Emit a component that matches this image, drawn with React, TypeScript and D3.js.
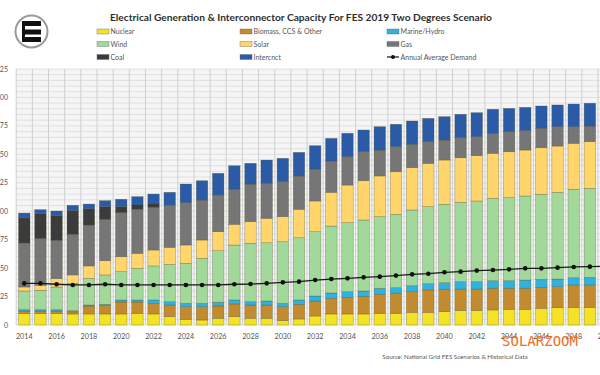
import React from "react";
import * as d3 from "d3";

const years = d3.range(2014, 2051);
const nuclear = [10, 10, 10, 9.7, 9.7, 9.7, 9.7, 10.3, 9.7, 7.3, 5, 4.4, 5.9, 7.3, 5.9, 5.9, 3.8, 5.3, 7.9, 9.7, 9.7, 9.7, 10.3, 10.3, 11.1, 11.1, 11.7, 12.6, 12.6, 13.2, 13.8, 13.8, 14.7, 15.2, 15.5, 15.5, 15.5];
const biomass = [2.3, 2.3, 2.3, 1.9, 6.9, 7.5, 10.5, 9.9, 9.3, 10.3, 11.1, 11.7, 10.8, 11.2, 11.7, 11.7, 12.3, 12.9, 13.2, 13.7, 14.6, 15.5, 16.7, 17.6, 18.2, 19.7, 19.7, 19, 19, 19.1, 18.5, 18.5, 18.4, 18.5, 19.7, 19.7, 20];
const marine = [1.2, 1.2, 1.2, 1, 1, 1, 1.8, 1.8, 3, 2.9, 2.9, 2.9, 3.3, 3.5, 2.9, 3.5, 2.9, 3.8, 4.4, 4.7, 5, 4.7, 5.3, 4.9, 5.2, 5.5, 5.8, 6.5, 6.5, 6.6, 6.6, 7.2, 7, 6.7, 6.4, 6.7, 6.8];
const wind = [16.4, 17, 19.9, 24, 23.4, 25.8, 24.9, 27.8, 29.9, 32.8, 35.2, 39.6, 45.3, 48.3, 51.3, 51.2, 54.2, 54.7, 56.5, 58.9, 60.6, 62.4, 62.9, 64.5, 66.6, 67.7, 68.9, 69.7, 70.9, 72.5, 73, 73.9, 74.8, 76.2, 77.7, 78.2, 79];
const solar = [3.5, 4.4, 7.3, 7.4, 10.9, 12.5, 13.1, 13.2, 14, 15, 16.1, 16.1, 16.7, 18.2, 19, 21.5, 22, 25, 27, 29.6, 33.1, 34.5, 35.8, 37.4, 37.2, 38.1, 38.9, 39.2, 39.8, 39.5, 40.4, 40.4, 40.9, 40.7, 40.4, 41, 41.5];
const gas = [38.7, 41, 33.7, 35.7, 36, 36.4, 38.7, 38.7, 37.5, 37.2, 37.2, 35.2, 32.3, 31, 33.1, 30.7, 30.8, 29.3, 28.1, 27.5, 24.9, 25.5, 22.8, 22, 20.5, 19, 17.6, 17.6, 16.7, 17.6, 17.6, 17, 17.1, 17, 14.6, 13.8, 13.5];
const coal = [22.2, 21.9, 21.7, 20.8, 14.3, 11.1, 5.3, 3.8, 3.6, 0, 0, 0, 0, 0, 0, 0, 0, 0, 0, 0, 0, 0, 0, 0, 0, 0, 0, 0, 0, 0, 0, 0, 0, 0, 0, 0, 0];
const intercnct = [4.1, 3.6, 4.1, 4.7, 4.1, 5.3, 6.5, 7.3, 8.1, 11.1, 16.4, 16.9, 19, 20.5, 18.2, 20.5, 20.5, 20.7, 20.5, 19.9, 20.6, 19.1, 20.5, 19.7, 20.5, 20.5, 20.5, 20.6, 21.1, 21.1, 20.5, 20.5, 19.6, 19.1, 19.9, 20, 20];
const demand = [36.6, 36.6, 35.8, 35.2, 35.2, 35.8, 35.2, 35.2, 35.2, 35.2, 35.2, 35.2, 35.2, 35.8, 36, 36.6, 37.5, 38.1, 39.5, 40.4, 41, 41.9, 42.5, 43.4, 44.5, 45.1, 46.3, 46.9, 47.8, 48.3, 48.9, 49.8, 49.8, 50.4, 51, 51.3, 51.6];

const seriesKeys = ["Nuclear", "Biomass, CCS & Other", "Marine/Hydro", "Wind", "Solar", "Gas", "Coal", "Intercnct"];
const seriesValues = [nuclear, biomass, marine, wind, solar, gas, coal, intercnct];
const seriesColors = ["#f3e226", "#c28b30", "#30b1de", "#a2d99b", "#ffd56c", "#767676", "#3b3b3b", "#2b5ba7"];
const yTicks = d3.range(0, 226, 25);
const xTickYears = years.filter((y) => (y - 2014) % 2 === 0);
const legendRows = [
  ["Nuclear", "Biomass, CCS & Other", "Marine/Hydro"],
  ["Wind", "Solar", "Gas"],
  ["Coal", "Intercnct", "Annual Average Demand"],
];

export default function App() {
  const x = d3
    .scaleBand<number>()
    .domain(years)
    .range([16.2, 16.2 + 37 * 16.16])
    .paddingInner(0.29)
    .paddingOuter(0.145);
  const y = d3.scaleLinear().domain([0, 225]).range([325, 69]);

  const table = years.map((yr, i) => {
    const row: any = { year: yr };
    seriesKeys.forEach((k, j) => (row[k] = seriesValues[j][i]));
    return row;
  });
  const stacked = d3.stack<any>().keys(seriesKeys)(table);
  const cx = (yr: number) => (x(yr) as number) + x.bandwidth() / 2;
  const line = d3
    .line<number>()
    .x((_, i) => cx(years[i]))
    .y((d) => y(d));

  const step = x.step();
  const gridV = years.map((yr) => cx(yr) - step / 2);
  const gridH = d3.range(0, 226, 5);
  const font = "Lato, 'Open Sans', sans-serif";

  const colX = [97, 240, 387];
  const rowY = [31.5, 44, 57];

  return (
    <svg width={600} height={375} style={{ position: "absolute", left: 0, top: 0, background: "#fff" }} fontFamily={font}>
      <rect x={0} y={0} width={600} height={375} fill="#fff" />
      {/* logo */}
      <g>
        <circle cx={31.5} cy={31.5} r={16} fill="#fff" stroke="#9a9a9a" strokeWidth={2} />
        <rect x={22} y={21} width={19} height={5} fill="#111" />
        <rect x={22} y={29.5} width={19} height={5} fill="#111" />
        <rect x={22} y={37} width={19} height={5} fill="#111" />
        <rect x={22} y={21} width={3} height={21} fill="#111" />
      </g>
      <text x={301} y={20.5} textAnchor="middle" fontSize={10.2} fontWeight={700} fill="#2e2e2e">
        Electrical Generation &amp; Interconnector Capacity For FES 2019 Two Degrees Scenario
      </text>
      {/* legend */}
      {legendRows.map((row, ri) =>
        row.map((name, ci) => {
          const lx = colX[ci];
          const ly = rowY[ri];
          const idx = seriesKeys.indexOf(name);
          return (
            <g key={name}>
              {idx >= 0 ? (
                <rect x={lx} y={ly - 2.5} width={12} height={5} fill={seriesColors[idx]} stroke="#666" strokeWidth={0.4} />
              ) : (
                <g>
                  <line x1={lx} x2={lx + 12} y1={ly} y2={ly} stroke="#111" strokeWidth={1.2} />
                  <circle cx={lx + 6} cy={ly} r={2} fill="#111" />
                </g>
              )}
              <text x={lx + 13.5} y={ly + 2.5} fontSize={7} fill="#555">
                {name}
              </text>
            </g>
          );
        })
      )}
      {/* plot background & grid */}
      <rect x={16} y={69} width={584} height={256} fill="#f5f5f5" />
      {gridH.map((v) => (
        <line key={"h" + v} x1={16} x2={600} y1={y(v)} y2={y(v)} stroke="#dadada" strokeWidth={0.8} />
      ))}
      {gridV.map((gx, i) => (
        <line key={"v" + i} x1={gx} x2={gx} y1={69} y2={325} stroke="#cfcfcf" strokeWidth={1} />
      ))}
      {/* bars */}
      {stacked.map((s, si) => (
        <g key={s.key} fill={seriesColors[si]}>
          {s.map((d, i) =>
            d[1] - d[0] > 0 ? (
              <rect
                key={i}
                x={x(years[i])}
                y={y(d[1])}
                width={x.bandwidth()}
                height={y(d[0]) - y(d[1])}
                stroke="rgba(70,70,40,0.45)"
                strokeWidth={0.6}
              />
            ) : null
          )}
        </g>
      ))}
      {/* demand line */}
      <path d={line(demand) || ""} fill="none" stroke="#1a1a1a" strokeWidth={1.3} />
      {demand.map((v, i) => (
        <circle key={"d" + i} cx={cx(years[i])} cy={y(v)} r={2.3} fill="#111" />
      ))}
      {/* y axis labels */}
      {yTicks.map((t) => (
        <text key={"yt" + t} x={8} y={y(t) + 2.5} textAnchor="end" fontSize={7} fill="#555">
          {t}
        </text>
      ))}
      {/* x axis labels */}
      {xTickYears.map((yr) => (
        <text key={"xt" + yr} x={cx(yr)} y={339} textAnchor="middle" fontSize={7.2} fill="#555">
          {yr}
        </text>
      ))}
      <text x={455} y={359} textAnchor="middle" fontSize={6.2} fill="#555">
        Source: National Grid FES Scenarios &amp; Historical Data
      </text>
      <text x={540} y={346} textAnchor="middle" fontSize={14} fill="#f26c1a" fontFamily="'DejaVu Sans Mono', monospace">
        SOLARZOOM
      </text>
    </svg>
  );
}
